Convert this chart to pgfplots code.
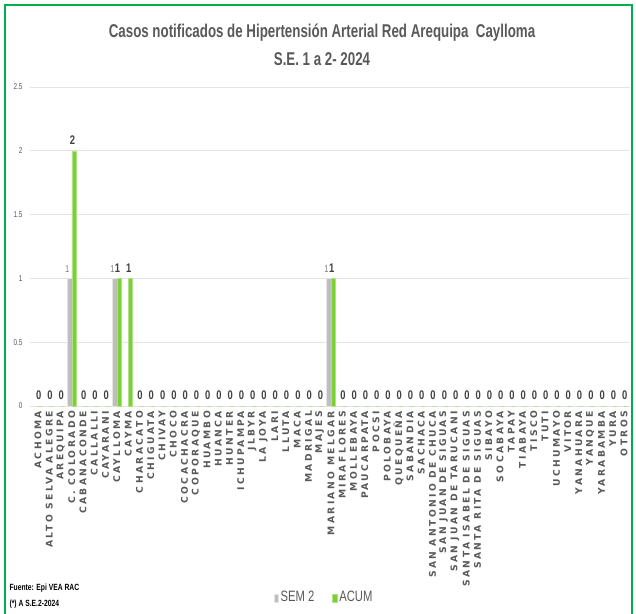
\documentclass[border=0pt]{standalone}
\usepackage{fontspec}
\usepackage{pgfplots}
\usepackage{pgfplotstable}
\pgfplotsset{compat=1.18}
\setmainfont{Liberation Sans}
\newfontfamily\narrow{Liberation Sans}[FakeStretch=0.75]
\newfontfamily\titlefont{Liberation Sans}[FakeStretch=0.72]
\newfontfamily\capsfont{DejaVu Sans}[LetterSpace=26]

\definecolor{frame}{RGB}{0,176,80}
\definecolor{txtgray}{RGB}{89,89,89}
\definecolor{semgray}{RGB}{190,190,190}
\definecolor{acumgreen}{RGB}{122,208,52}

% x = posicion de la categoria (0..52)
\pgfplotstableread{
x sem acum
0 0 0
1 0 0
2 0 0
3 1 2
4 0 0
5 0 0
6 0 0
7 1 1
8 0 1
9 0 0
10 0 0
11 0 0
12 0 0
13 0 0
14 0 0
15 0 0
16 0 0
17 0 0
18 0 0
19 0 0
20 0 0
21 0 0
22 0 0
23 0 0
24 0 0
25 0 0
26 1 1
27 0 0
28 0 0
29 0 0
30 0 0
31 0 0
32 0 0
33 0 0
34 0 0
35 0 0
36 0 0
37 0 0
38 0 0
39 0 0
40 0 0
41 0 0
42 0 0
43 0 0
44 0 0
45 0 0
46 0 0
47 0 0
48 0 0
49 0 0
50 0 0
51 0 0
52 0 0
}\datos

\begin{document}
\begin{tikzpicture}[x=1pt,y=1pt]
\begin{pgfinterruptboundingbox}
\begin{axis}[
    name=ax,
    scale only axis, width=600pt, height=319pt,
    xmin=-0.71, xmax=52.53,
    ymin=0, ymax=2.5,
    ytick={0,0.5,1,1.5,2,2.5},
    xtick={0,...,52},
    xticklabels={ACHOMA,ALTO SELVA ALEGRE,AREQUIPA,C. COLORADO,CABANACONDE,CALLALLI,CAYARANI,CAYLLOMA,CAYMA,CHARACATO,CHIGUATA,CHIVAY,CHOCO,COCACHACRA,COPORAQUE,HUAMBO,HUANCA,HUNTER,ICHUPAMPA,JLBYR,LA JOYA,LARI,LLUTA,MACA,MADRIGAL,MAJES,MARIANO MELGAR,MIRAFLORES,MOLLEBAYA,PAUCARPATA,POCSI,POLOBAYA,QUEQUEÑA,SABANDIA,SACHACA,SAN ANTONIO DE CHUCA,SAN JUAN DE SIGUAS,SAN JUAN DE TARUCANI,SANTA ISABEL DE SIGUAS,SANTA RITA DE SIGUAS,SIBAYO,SOCABAYA,TAPAY,TIABAYA,TISCO,TUTI,UCHUMAYO,VITOR,YANAHUARA,YANQUE,YARABAMBA,YURA,OTROS},
    x tick label style={rotate=90, anchor=east, inner sep=0.5pt,
        font=\capsfont\bfseries\fontsize{9.2}{9}\selectfont, text=txtgray},
    y tick label style={font=\narrow\fontsize{8.5}{9}\selectfont, text=txtgray, xshift=-4pt},
    /pgf/number format/assume math mode=true,
    axis line style={draw=none},
    tick style={draw=none},
    ymajorgrids,
    grid style={draw=gray!22, line width=0.8pt},
    ybar=0pt, bar width=4.3pt,
    legend style={at={(0.49,-0.60)}, anchor=center, draw=none, fill=none,
        legend columns=2, font=\narrow\fontsize{15}{15}\selectfont, text=txtgray,
        /tikz/every even column/.append style={column sep=16pt}},
    legend image code/.code={\fill[#1] (0pt,-4.5pt) rectangle (4.5pt,3.5pt);},
]
\addplot[fill=semgray, draw=gray!20, line width=0.5pt,
    nodes near coords={\pgfmathfloattofixed{\pgfplotspointmeta}\ifdim\pgfmathresult pt>0pt 1\fi},
    every node near coord/.append style={font=\narrow\fontsize{10}{10}\selectfont, text=gray, anchor=south east, xshift=1pt, yshift=5pt, inner sep=1pt}]
    table[x=x, y=sem] {\datos};
\addlegendentry{SEM 2}
\addplot[fill=acumgreen, draw=acumgreen!60!white, line width=0.5pt,
    nodes near coords,
    every node near coord/.append style={font=\narrow\bfseries\fontsize{12.5}{12}\selectfont, text=black!75, xshift=-1.5pt, yshift=5pt, inner sep=1pt}]
    table[x=x, y=acum] {\datos};
\addlegendentry{ACUM}
\end{axis}
\end{pgfinterruptboundingbox}

\coordinate (O) at ([xshift=-30pt,yshift=-207pt]ax.south west);
\useasboundingbox (O) rectangle ([xshift=636pt,yshift=613pt]O);
\begin{scope}[shift={(O)}]
\draw[frame, line width=1.6pt] (5,-10) -- (5,608) -- (632,608) -- (632,-10);
\node[font=\titlefont\bfseries\fontsize{18.5}{20}\selectfont, text=txtgray] at (322,580)
  {Casos notificados de Hipertensión Arterial Red Arequipa\ \ Caylloma};
\node[font=\titlefont\bfseries\fontsize{18.5}{20}\selectfont, text=txtgray] at (322,554)
  {S.E. 1 a 2- 2024};
\node[anchor=west, font=\narrow\bfseries\fontsize{9}{9}\selectfont] at (6,25) {Fuente: Epi VEA RAC};
\node[anchor=west, font=\narrow\bfseries\fontsize{9}{9}\selectfont] at (6,9) {(*) A S.E.2-2024};
\end{scope}
\end{tikzpicture}
\end{document}
